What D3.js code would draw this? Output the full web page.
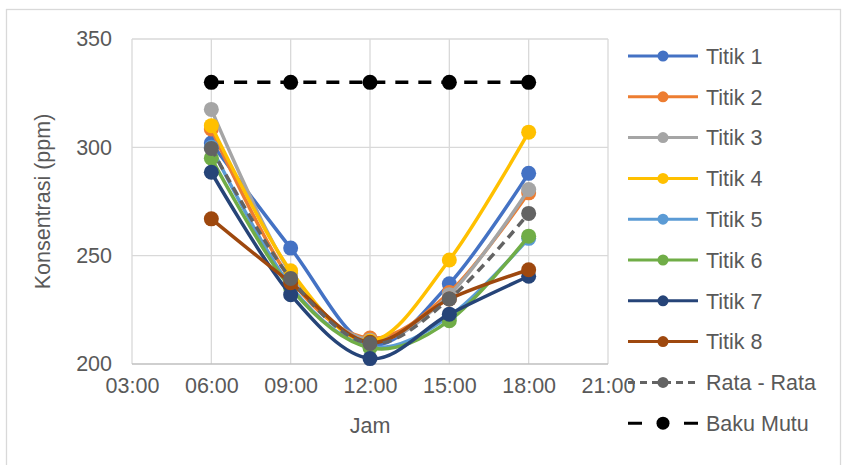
<!DOCTYPE html>
<html>
<head>
<meta charset="utf-8">
<script src="https://cdn.jsdelivr.net/npm/d3@7"></script>
<style>
  body { margin: 0; background: #fff; }
  text { font-family: "Liberation Sans", Arial, sans-serif; fill: #595959; }
</style>
</head>
<body>
<div id="chart"></div>
<script>
// data
const jam = [6, 9, 12, 15, 18];
const xTicks = [3, 6, 9, 12, 15, 18, 21];
const yTicks = [200, 250, 300, 350];

const seriesNames = ["Titik 1", "Titik 2", "Titik 3", "Titik 4", "Titik 5", "Titik 6", "Titik 7", "Titik 8", "Rata - Rata", "Baku Mutu"];
const titik1 = [302, 253.5, 209, 237, 288];
const titik2 = [308.5, 239, 212, 233, 279];
const titik3 = [317.5, 242, 211, 232, 280.5];
const titik4 = [310, 243, 210.5, 248, 307];
const titik5 = [300, 236, 208, 222, 258];
const titik6 = [295, 235, 207.5, 220, 259];
const titik7 = [288.5, 232, 202.5, 223, 240.5];
const titik8 = [267, 237.5, 210, 230, 243.5];
const rataRata = [299.5, 239.5, 209.5, 230, 269.5];
const bakuMutu = [330, 330, 330, 330, 330];

const values = [titik1, titik2, titik3, titik4, titik5, titik6, titik7, titik8, rataRata, bakuMutu];
const colors = ["#4472C4", "#ED7D31", "#A5A5A5", "#FFC000", "#5B9BD5", "#70AD47", "#264478", "#9E480E", "#636363", "#000000"];

const width = 847, height = 465;
const fontSize = "21.5px";
const svg = d3.select("#chart").append("svg").attr("width", width).attr("height", height);

// chart border
svg.append("rect")
  .attr("x", 6.5).attr("y", 9.5)
  .attr("width", 834).attr("height", 470)
  .attr("fill", "none").attr("stroke", "#D9D9D9").attr("stroke-width", 1.3);

const plot = { left: 132, top: 39, right: 608, bottom: 364 };
const x = d3.scaleLinear().domain([3, 21]).range([plot.left, plot.right]);
const y = d3.scaleLinear().domain([200, 350]).range([plot.bottom, plot.top]);

// grid
const g = svg.append("g");
g.selectAll(".vgrid").data(xTicks).enter().append("line")
  .attr("x1", d => x(d)).attr("x2", d => x(d))
  .attr("y1", plot.top).attr("y2", plot.bottom)
  .attr("stroke", "#D9D9D9").attr("stroke-width", 1.3);
g.selectAll(".hgrid").data(yTicks).enter().append("line")
  .attr("x1", plot.left).attr("x2", plot.right)
  .attr("y1", d => y(d)).attr("y2", d => y(d))
  .attr("stroke", d => d === 200 ? "#BFBFBF" : "#D9D9D9").attr("stroke-width", 1.3);

// tick labels
const fmt = d => d3.format("02d")(d) + ":00";
const xAxis = d3.axisBottom(x).tickValues(xTicks).tickFormat(fmt).tickSize(0).tickPadding(14);
const xg = svg.append("g").attr("transform", `translate(0,${plot.bottom})`).call(xAxis);
const yAxis = d3.axisLeft(y).tickValues(yTicks).tickSize(0).tickPadding(20);
const yg = svg.append("g").attr("transform", `translate(${plot.left},0)`).call(yAxis);
[xg, yg].forEach(a => {
  a.select(".domain").remove();
  a.selectAll("text").style("font-size", fontSize).style("fill", "#595959")
    .style("font-family", "'Liberation Sans', Arial, sans-serif");
});

// axis titles
svg.append("text").attr("x", (plot.left + plot.right) / 2).attr("y", 433)
  .attr("text-anchor", "middle").style("font-size", fontSize).text("Jam");
svg.append("text").attr("transform", `translate(50,${(plot.top + plot.bottom) / 2}) rotate(-90)`)
  .attr("text-anchor", "middle").style("font-size", fontSize).text("Konsentrasi (ppm)");

// series
const line = d3.line().x(d => x(d[0])).y(d => y(d[1])).curve(d3.curveCatmullRom.alpha(0));
const series = seriesNames.map((name, i) => ({
  name, color: colors[i], dashed: i >= 8, pts: jam.map((h, j) => [h, values[i][j]])
}));

const sg = svg.append("g").selectAll("g").data(series).enter().append("g");
sg.append("path")
  .attr("d", d => line(d.pts))
  .attr("fill", "none")
  .attr("stroke", d => d.color)
  .attr("stroke-width", 3.5)
  .attr("stroke-dasharray", d => d.name === "Baku Mutu" ? "13,10" : d.dashed ? "9,6" : null);
sg.selectAll("circle").data(d => d.pts.map(p => ({ p, c: d.color }))).enter().append("circle")
  .attr("cx", d => x(d.p[0])).attr("cy", d => y(d.p[1]))
  .attr("r", 7.5).attr("fill", d => d.c);

// legend
const leg = svg.append("g").selectAll("g").data(series).enter().append("g")
  .attr("transform", (d, i) => `translate(628,${56 + i * 40.8})`);
leg.append("line")
  .attr("x1", 0).attr("x2", 70).attr("y1", 0).attr("y2", 0)
  .attr("stroke", d => d.color).attr("stroke-width", 3)
  .attr("stroke-dasharray", d => d.name === "Baku Mutu" ? "14,42" : d.dashed ? "7,5" : null);
leg.append("circle").attr("cx", 35).attr("cy", 0)
  .attr("r", d => d.name === "Baku Mutu" ? 6.5 : 5.5).attr("fill", d => d.color);
leg.append("text").attr("x", 78).attr("y", 0).attr("dy", "0.36em")
  .style("font-size", fontSize).text(d => d.name);
</script>
</body>
</html>
